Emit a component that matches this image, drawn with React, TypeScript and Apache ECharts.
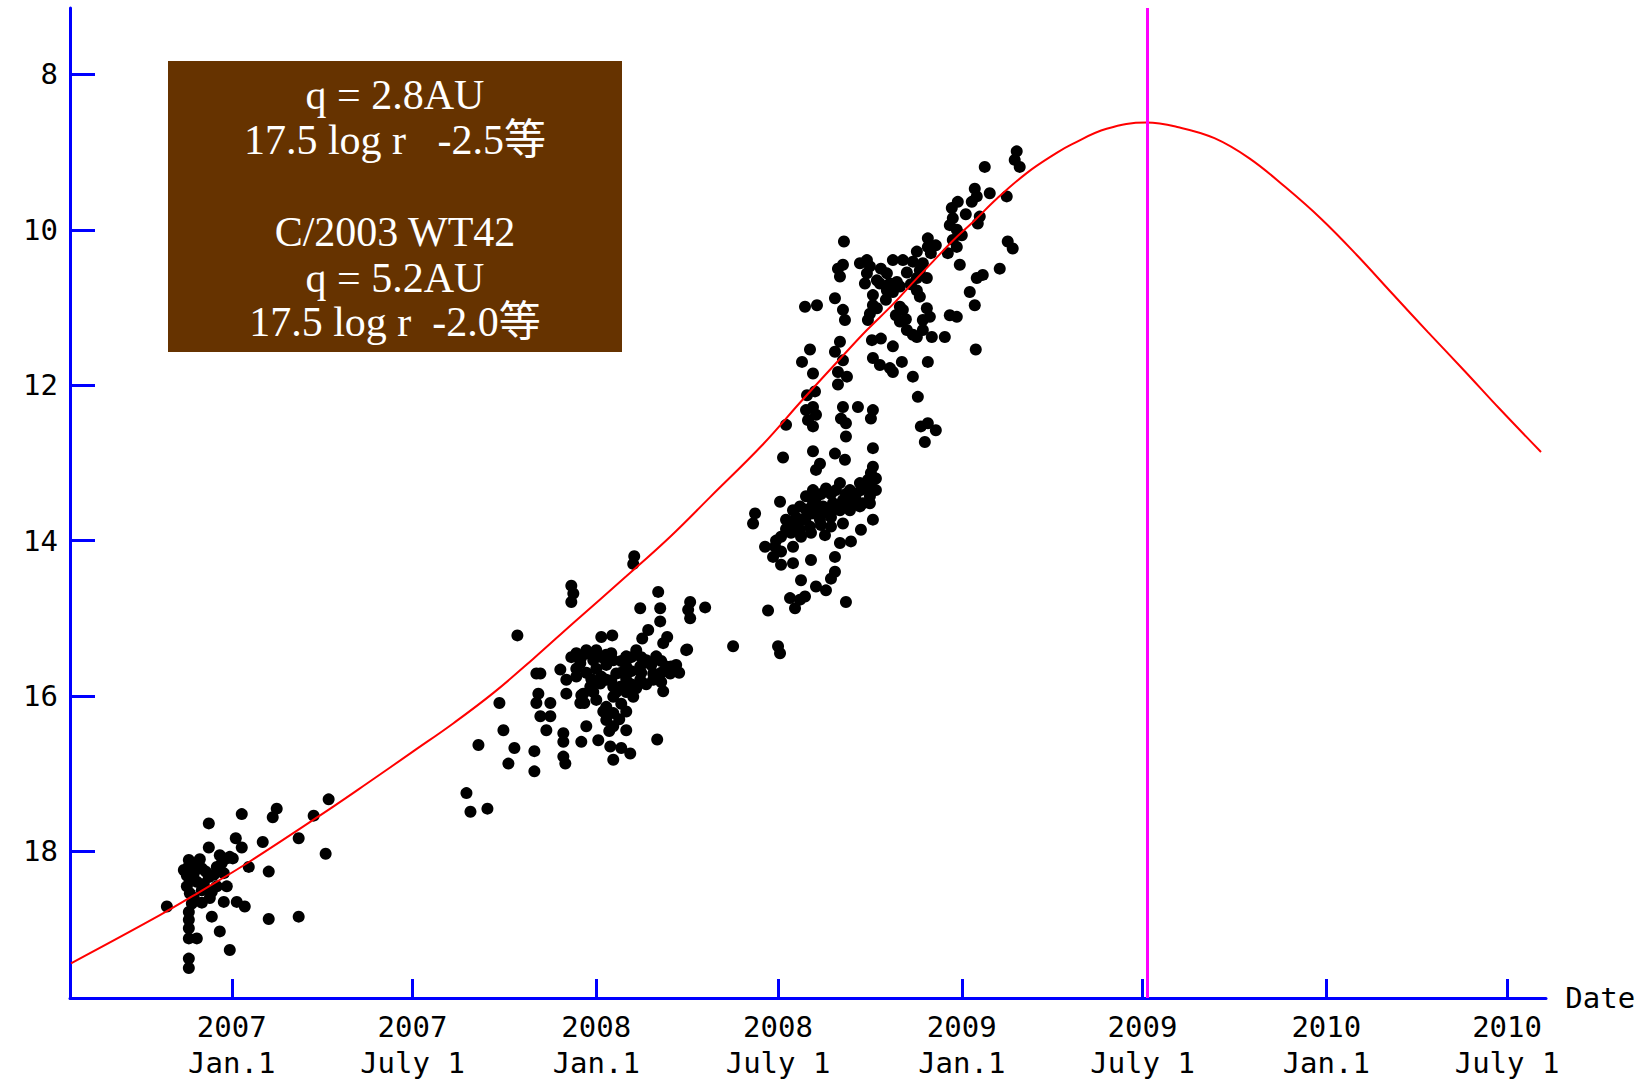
import React, { useEffect, useRef } from "react";
import * as echarts from "echarts";

// x values are days counted from 2007-01-01; y values are magnitudes
const xTickDays = [0, 181, 365, 547, 731, 912, 1096, 1277];
const xTickLabels = [
  "2007\nJan.1", "2007\nJuly 1", "2008\nJan.1", "2008\nJuly 1",
  "2009\nJan.1", "2009\nJuly 1", "2010\nJan.1", "2010\nJuly 1",
];
const yTicks = [8, 10, 12, 14, 16, 18];

const legendLines = [
  "q = 2.8AU",
  "17.5 log r\u00a0\u00a0\u00a0-2.5等",
  "C/2003 WT42",
  "q = 5.2AU",
  "17.5 log r\u00a0\u00a0-2.0等",
];

const perihelionDay = 917;

const curveDays = [-161, -72, -32, 18, 102, 135, 182, 222, 262, 302, 342, 395, 439, 479, 532, 570, 612, 636, 662, 682, 702, 722, 743, 766, 796, 826, 841, 876, 916, 948, 984, 1019, 1055, 1091, 1127, 1162, 1198, 1234, 1270, 1311];
const curveMags = [19.44, 18.82, 18.52, 18.13, 17.42, 17.13, 16.71, 16.35, 15.96, 15.52, 15.06, 14.46, 13.95, 13.44, 12.76, 12.21, 11.62, 11.29, 10.96, 10.68, 10.41, 10.14, 9.89, 9.6, 9.27, 9.01, 8.9, 8.7, 8.62, 8.68, 8.82, 9.08, 9.45, 9.86, 10.33, 10.82, 11.32, 11.81, 12.31, 12.86];

const obs2007 = [
  [97, 17.33], [45, 17.45], [41, 17.56], [10, 17.52], [-23, 17.64], [82, 17.54], [31, 17.88], [67, 17.83], [4, 17.83], [10, 17.95],
  [94, 18.03], [-23, 17.95], [-12, 18.05], [-5, 18.09], [1, 18.09], [-32, 18.1], [-43, 18.11], [-43, 18.19], [-45, 18.31], [-42, 18.37],
  [-38, 18.28], [17, 18.2], [-8, 18.28], [37, 18.26], [-23, 18.33], [-35, 18.39], [-15, 18.45], [-42, 18.54], [-40, 18.67], [-43, 18.78],
  [-43, 18.88], [-43, 18.99], [-43, 19.12], [-35, 19.12], [-43, 19.38], [-43, 19.5], [-65, 18.71], [-22, 18.6], [-8, 18.65], [5, 18.65],
  [13, 18.71], [-20, 18.84], [-12, 19.03], [-2, 19.27], [37, 18.87], [67, 18.84], [-35, 18.15], [-48, 18.24], [-10, 18.15], [-2, 18.07],
  [-20, 18.52], [-40, 18.2], [-30, 18.22], [-26, 18.26], [-28, 18.42], [-18, 18.3], [-15, 18.2], [-30, 18.5], [-5, 18.45], [-45, 18.45],
  [-38, 18.6], [-30, 18.66],
];

const obsEarly2008 = [
  [403, 14.2], [402, 14.3], [340, 14.58], [342, 14.68], [340, 14.79], [427, 14.66], [409, 14.87], [429, 14.87], [459, 14.79], [457, 14.89],
  [459, 15.0], [474, 14.86], [429, 15.04], [417, 15.15], [411, 15.26], [436, 15.24], [432, 15.32], [456, 15.4], [370, 15.24], [381, 15.22],
  [286, 15.22], [345, 15.45], [355, 15.41], [365, 15.41], [375, 15.47], [349, 15.58], [362, 15.54], [382, 15.54], [395, 15.49], [405, 15.41],
  [415, 15.54], [425, 15.49], [435, 15.62], [439, 15.71], [422, 15.71], [409, 15.62], [395, 15.62], [385, 15.71], [375, 15.79], [382, 15.88],
  [389, 15.88], [395, 15.79], [409, 15.79], [422, 15.79], [402, 16.01], [382, 16.01], [375, 16.14], [382, 16.22], [375, 16.31], [382, 16.39],
  [395, 16.44], [369, 15.84], [359, 15.88], [345, 15.75], [335, 15.79], [329, 15.66], [352, 15.97], [335, 15.97], [349, 16.09], [305, 15.71],
  [309, 15.71], [307, 15.97], [305, 16.09], [319, 16.09], [309, 16.26], [319, 16.26], [315, 16.44], [332, 16.48], [332, 16.59], [350, 16.59],
  [355, 16.39], [367, 16.57], [379, 16.65], [390, 16.67], [399, 16.74], [382, 16.82], [426, 16.56], [432, 15.94], [455, 15.41], [268, 16.09],
  [272, 16.44], [247, 16.63], [283, 16.67], [303, 16.71], [277, 16.87], [303, 16.97], [235, 17.25], [332, 16.78], [334, 16.87], [350, 15.99],
  [353, 16.09], [239, 17.49], [256, 17.45], [340, 15.5], [350, 15.5], [360, 15.47], [370, 15.5], [380, 15.45], [390, 15.55], [400, 15.5],
  [410, 15.5], [420, 15.6], [430, 15.55], [345, 15.65], [355, 15.7], [365, 15.65], [375, 15.6], [390, 15.7], [400, 15.68], [410, 15.7],
  [430, 15.7], [440, 15.62], [360, 15.78], [370, 15.75], [380, 15.8], [400, 15.85], [415, 15.85], [385, 15.95], [395, 15.95], [405, 15.9],
  [390, 16.1], [395, 16.2], [388, 16.3], [378, 16.45], [372, 16.2], [365, 16.05], [362, 15.95], [430, 15.82], [445, 15.6], [448, 15.7],
];

const obsMid2008 = [
  [582, 12.28], [575, 12.32], [585, 12.38], [577, 12.45], [582, 12.53], [555, 12.51], [612, 12.28], [627, 12.28], [642, 12.32], [640, 12.43],
  [610, 12.43], [615, 12.49], [690, 12.53], [697, 12.49], [705, 12.58], [694, 12.73], [615, 12.66], [582, 12.85], [552, 12.93], [604, 12.88],
  [614, 12.96], [642, 12.81], [589, 13.01], [585, 13.09], [642, 13.05], [640, 13.13], [637, 13.22], [575, 13.43], [582, 13.35], [595, 13.33],
  [609, 13.26], [619, 13.35], [629, 13.26], [635, 13.31], [639, 13.43], [632, 13.52], [622, 13.48], [612, 13.48], [602, 13.52], [592, 13.56],
  [582, 13.65], [572, 13.73], [562, 13.78], [569, 13.86], [579, 13.82], [589, 13.73], [599, 13.65], [609, 13.61], [619, 13.61], [629, 13.56],
  [639, 13.52], [562, 13.61], [555, 13.73], [569, 13.56], [582, 13.52], [549, 13.5], [524, 13.65], [522, 13.78], [612, 13.78], [630, 13.86],
  [642, 13.73], [594, 13.93], [609, 14.03], [620, 14.01], [534, 14.08], [544, 14.08], [550, 14.14], [562, 14.08], [542, 14.21], [550, 14.31],
  [562, 14.29], [580, 14.25], [604, 14.21], [604, 14.4], [600, 14.49], [570, 14.51], [585, 14.59], [595, 14.64], [559, 14.74], [569, 14.76],
  [574, 14.72], [564, 14.87], [615, 14.79], [537, 14.9], [502, 15.36], [547, 15.36], [549, 15.45], [585, 13.45], [590, 13.4], [600, 13.4],
  [605, 13.35], [615, 13.4], [625, 13.4], [630, 13.35], [640, 13.3], [645, 13.2], [645, 13.35], [575, 13.6], [585, 13.58], [595, 13.6],
  [605, 13.55], [615, 13.5], [625, 13.48], [565, 13.7], [575, 13.7], [590, 13.65], [600, 13.7], [560, 13.9], [570, 13.95], [580, 13.9],
  [555, 13.85], [550, 13.95], [545, 14.0], [590, 13.8], [600, 13.82],
];

const obsLate2008 = [
  [747, 9.92], [719, 9.94], [726, 10.0], [731, 10.07], [722, 10.13], [717, 10.3], [726, 10.22], [777, 10.15], [782, 10.24], [613, 10.15],
  [697, 10.11], [697, 10.22], [636, 10.39], [639, 10.47], [629, 10.43], [636, 10.56], [607, 10.5], [612, 10.45], [609, 10.6], [662, 10.39],
  [672, 10.39], [686, 10.28], [682, 10.41], [692, 10.43], [689, 10.52], [696, 10.62], [686, 10.62], [729, 10.45], [769, 10.5], [752, 10.58],
  [746, 10.62], [656, 10.56], [646, 10.65], [659, 10.69], [666, 10.67], [669, 10.73], [656, 10.78], [662, 10.8], [649, 10.69], [634, 10.69],
  [686, 10.78], [689, 10.86], [739, 10.8], [744, 10.97], [642, 10.84], [642, 10.97], [639, 11.08], [637, 11.16], [646, 11.01], [669, 10.99],
  [672, 11.03], [696, 11.01], [699, 11.12], [692, 11.16], [574, 10.99], [586, 10.97], [604, 10.88], [612, 11.03], [614, 11.16], [719, 11.1],
  [726, 11.12], [669, 11.18], [676, 11.29], [682, 11.35], [692, 11.29], [686, 11.38], [701, 11.38], [714, 11.38], [662, 11.5], [641, 11.42],
  [745, 11.54], [609, 11.44], [604, 11.57], [612, 11.68], [579, 11.54], [571, 11.7], [642, 11.65], [649, 11.74], [659, 11.78], [662, 11.83],
  [671, 11.7], [697, 11.7], [682, 11.89], [582, 11.85], [607, 11.83], [616, 11.89], [607, 11.99], [584, 12.08], [576, 12.13], [687, 12.15],
  [650, 10.5], [676, 10.55], [680, 10.7], [655, 10.9], [665, 11.1], [675, 11.15], [700, 10.3], [705, 10.2], [735, 9.8], [650, 11.4],
];

const obsEarly2009 = [
  [786, 8.99], [784, 9.1], [789, 9.19], [754, 9.19], [744, 9.47], [746, 9.57], [741, 9.64], [759, 9.53], [776, 9.57], [727, 9.64],
  [721, 9.72], [722, 9.85], [749, 9.83],
];

const MONO = "'DejaVu Sans Mono', 'Liberation Mono', monospace";
const SERIF = "'Liberation Serif', 'Noto Sans CJK JP', serif";
const BLUE = "#0000FF";

function scatter(data: number[][]) {
  return {
    type: "scatter",
    data,
    symbol: "circle",
    symbolSize: 12,
    itemStyle: { color: "#000000", opacity: 1 },
    z: 2,
    silent: true,
  };
}

export default function App() {
  const ref = useRef<HTMLDivElement>(null);
  useEffect(() => {
    document.body.style.margin = "0";
    const chart = echarts.init(ref.current!, null, { renderer: "svg" });
    const legendY = [95, 140, 232, 278, 322];
    chart.setOption({
      animation: false,
      backgroundColor: "#ffffff",
      grid: { left: 70, right: 96, top: 8, bottom: 90, containLabel: false },
      xAxis: {
        type: "value",
        min: -162,
        max: 1316,
        name: "Date",
        nameLocation: "end",
        nameGap: 0,
        nameTextStyle: { fontFamily: MONO, fontSize: 29, color: "#000", verticalAlign: "middle", align: "left" },
        axisLine: { show: true, onZero: false, lineStyle: { color: BLUE, width: 3 } },
        axisTick: { show: true, inside: true, length: 19, customValues: xTickDays, lineStyle: { color: BLUE, width: 3 } },
        axisLabel: {
          show: true,
          customValues: xTickDays,
          formatter: (v: number) => {
            const i = xTickDays.indexOf(Math.round(v));
            return i >= 0 ? xTickLabels[i] : "";
          },
          fontFamily: MONO,
          fontSize: 29,
          lineHeight: 36,
          color: "#000",
          margin: 11,
        },
        splitLine: { show: false },
      },
      yAxis: {
        type: "value",
        inverse: true,
        min: 7.145,
        max: 19.887,
        axisLine: { show: true, onZero: false, lineStyle: { color: BLUE, width: 3 } },
        axisTick: { show: true, inside: true, length: 25, customValues: yTicks, lineStyle: { color: BLUE, width: 3 } },
        axisLabel: {
          show: true,
          customValues: yTicks,
          fontFamily: MONO,
          fontSize: 29,
          color: "#000",
          margin: 12,
        },
        splitLine: { show: false },
      },
      series: [
        scatter(obs2007),
        scatter(obsEarly2008),
        scatter(obsMid2008),
        scatter(obsLate2008),
        scatter(obsEarly2009),
        {
          type: "line",
          data: curveDays.map((d, i) => [d, curveMags[i]]),
          showSymbol: false,
          smooth: 0.4,
          lineStyle: { color: "#FF0000", width: 2 },
          z: 3,
          silent: true,
          markLine: {
            silent: true,
            symbol: ["none", "none"],
            label: { show: false },
            lineStyle: { color: "#FF00FF", width: 3, type: "solid" },
            data: [{ xAxis: perihelionDay }],
          },
        },
      ],
      graphic: [
        {
          type: "rect",
          shape: { x: 168, y: 61, width: 454, height: 291 },
          style: { fill: "#663300" },
          z: 10,
        },
        ...legendLines.map((t, i) => ({
          type: "text",
          x: 395,
          y: legendY[i],
          z: 11,
          style: {
            text: t,
            font: `42px ${SERIF}`,
            fill: "#ffffff",
            textAlign: "center",
            textVerticalAlign: "middle",
            align: "center",
            verticalAlign: "middle",
          },
        })),
      ],
    });
    return () => chart.dispose();
  }, []);
  return <div ref={ref} style={{ width: 1642, height: 1088, position: "absolute", left: 0, top: 0 }} />;
}
